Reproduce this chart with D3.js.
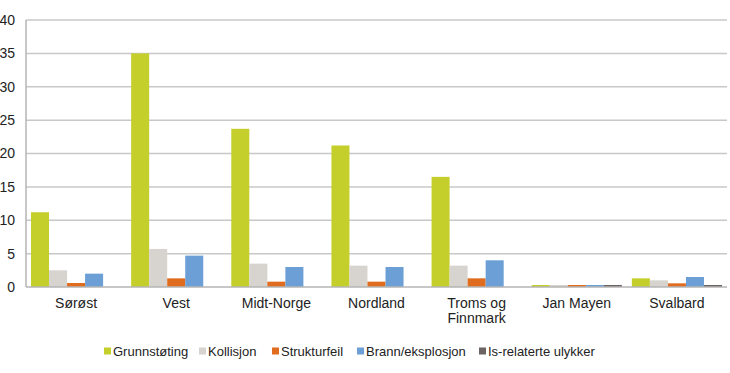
<!DOCTYPE html>
<html>
<head>
<meta charset="utf-8">
<script src="https://cdn.jsdelivr.net/npm/d3@7"></script>
<style>
  body { margin: 0; background: #fff; }
  text { font-family: "Liberation Sans", Arial, sans-serif; fill: #222; }
</style>
</head>
<body>
<div id="chart"></div>
<script>
// Data
const regions = ["Sørøst", "Vest", "Midt-Norge", "Nordland", "Troms og Finnmark", "Jan Mayen", "Svalbard"];
const seriesNames = ["Grunnstøting", "Kollisjon", "Strukturfeil", "Brann/eksplosjon", "Is-relaterte ulykker"];
const grunnstoting = [11.2, 35.0, 23.7, 21.2, 16.5, 0.3, 1.3];
const kollisjon = [2.5, 5.7, 3.5, 3.2, 3.2, 0.3, 1.0];
const strukturfeil = [0.6, 1.3, 0.8, 0.8, 1.3, 0.3, 0.55];
const brann = [2.0, 4.7, 3.0, 3.0, 4.0, 0.3, 1.5];
const isRelaterte = [0, 0, 0, 0, 0, 0.3, 0.3];
const yTicks = [0, 5, 10, 15, 20, 25, 30, 35, 40];

const seriesValues = [grunnstoting, kollisjon, strukturfeil, brann, isRelaterte];
const colors = ["#c5cf2b", "#d7d4cf", "#e06c1f", "#6c9fd6", "#6b6462"];

const width = 730, height = 373;
const margin = { top: 20, right: 3, bottom: 86, left: 26 };
const innerW = width - margin.left - margin.right;
const innerH = height - margin.top - margin.bottom;

const svg = d3.select("#chart").append("svg")
    .attr("width", width)
    .attr("height", height);

const g = svg.append("g")
    .attr("transform", `translate(${margin.left},${margin.top})`);

const x0 = d3.scaleBand().domain(regions).range([0, innerW]).paddingInner(0).paddingOuter(0);
const x1 = d3.scaleBand().domain(seriesNames).range([5, x0.bandwidth() - 5]).padding(0);
const y = d3.scaleLinear().domain([0, 40]).range([innerH, 0]);

// gridlines
g.selectAll(".grid")
    .data(yTicks.filter(d => d > 0))
    .enter().append("line")
    .attr("x1", 0).attr("x2", innerW)
    .attr("y1", d => y(d)).attr("y2", d => y(d))
    .attr("stroke", "#c8c8c8")
    .attr("stroke-width", 1.5);

// y axis labels
g.selectAll(".ytick")
    .data(yTicks)
    .enter().append("text")
    .attr("x", -11)
    .attr("y", d => y(d))
    .attr("dy", "0.35em")
    .attr("text-anchor", "end")
    .style("font-size", "14px")
    .text(d => d);

// bars
const groups = g.selectAll(".region")
    .data(regions)
    .enter().append("g")
    .attr("transform", d => `translate(${x0(d)},0)`);

groups.selectAll("rect")
    .data((d, i) => seriesNames.map((s, j) => ({ s, v: seriesValues[j][i], c: colors[j] })))
    .enter().append("rect")
    .filter(d => d.v > 0)
    .attr("x", d => x1(d.s))
    .attr("y", d => y(d.v))
    .attr("width", x1.bandwidth())
    .attr("height", d => y(0) - y(d.v))
    .attr("fill", d => d.c);

// axes lines
g.append("line")
    .attr("x1", 0).attr("x2", 0)
    .attr("y1", 0).attr("y2", innerH)
    .attr("stroke", "#b4b4b4").attr("stroke-width", 1.5);
g.append("line")
    .attr("x1", 0).attr("x2", innerW)
    .attr("y1", innerH).attr("y2", innerH)
    .attr("stroke", "#b4b4b4").attr("stroke-width", 1.5);

// x labels
const xLabels = g.selectAll(".xlabel")
    .data(regions)
    .enter().append("text")
    .attr("x", d => x0(d) + x0.bandwidth() / 2)
    .attr("y", innerH + 21)
    .attr("text-anchor", "middle")
    .style("font-size", "14px");

xLabels.each(function(d) {
    const el = d3.select(this);
    const lines = d === "Troms og Finnmark" ? ["Troms og", "Finnmark"] : [d];
    lines.forEach((t, i) => {
        el.append("tspan")
            .attr("x", x0(d) + x0.bandwidth() / 2)
            .attr("dy", i === 0 ? 0 : 15)
            .text(t);
    });
});

// legend
const legendX = [104, 199, 272, 357, 479];
const legend = svg.selectAll(".legend")
    .data(seriesNames)
    .enter().append("g")
    .attr("transform", (d, i) => `translate(${legendX[i]},351)`);

legend.append("rect")
    .attr("x", 0).attr("y", -3.5)
    .attr("width", 7).attr("height", 7)
    .attr("fill", (d, i) => colors[i]);

legend.append("text")
    .attr("x", 9)
    .attr("dy", "0.35em")
    .style("font-size", "13px")
    .text(d => d);
</script>
</body>
</html>
